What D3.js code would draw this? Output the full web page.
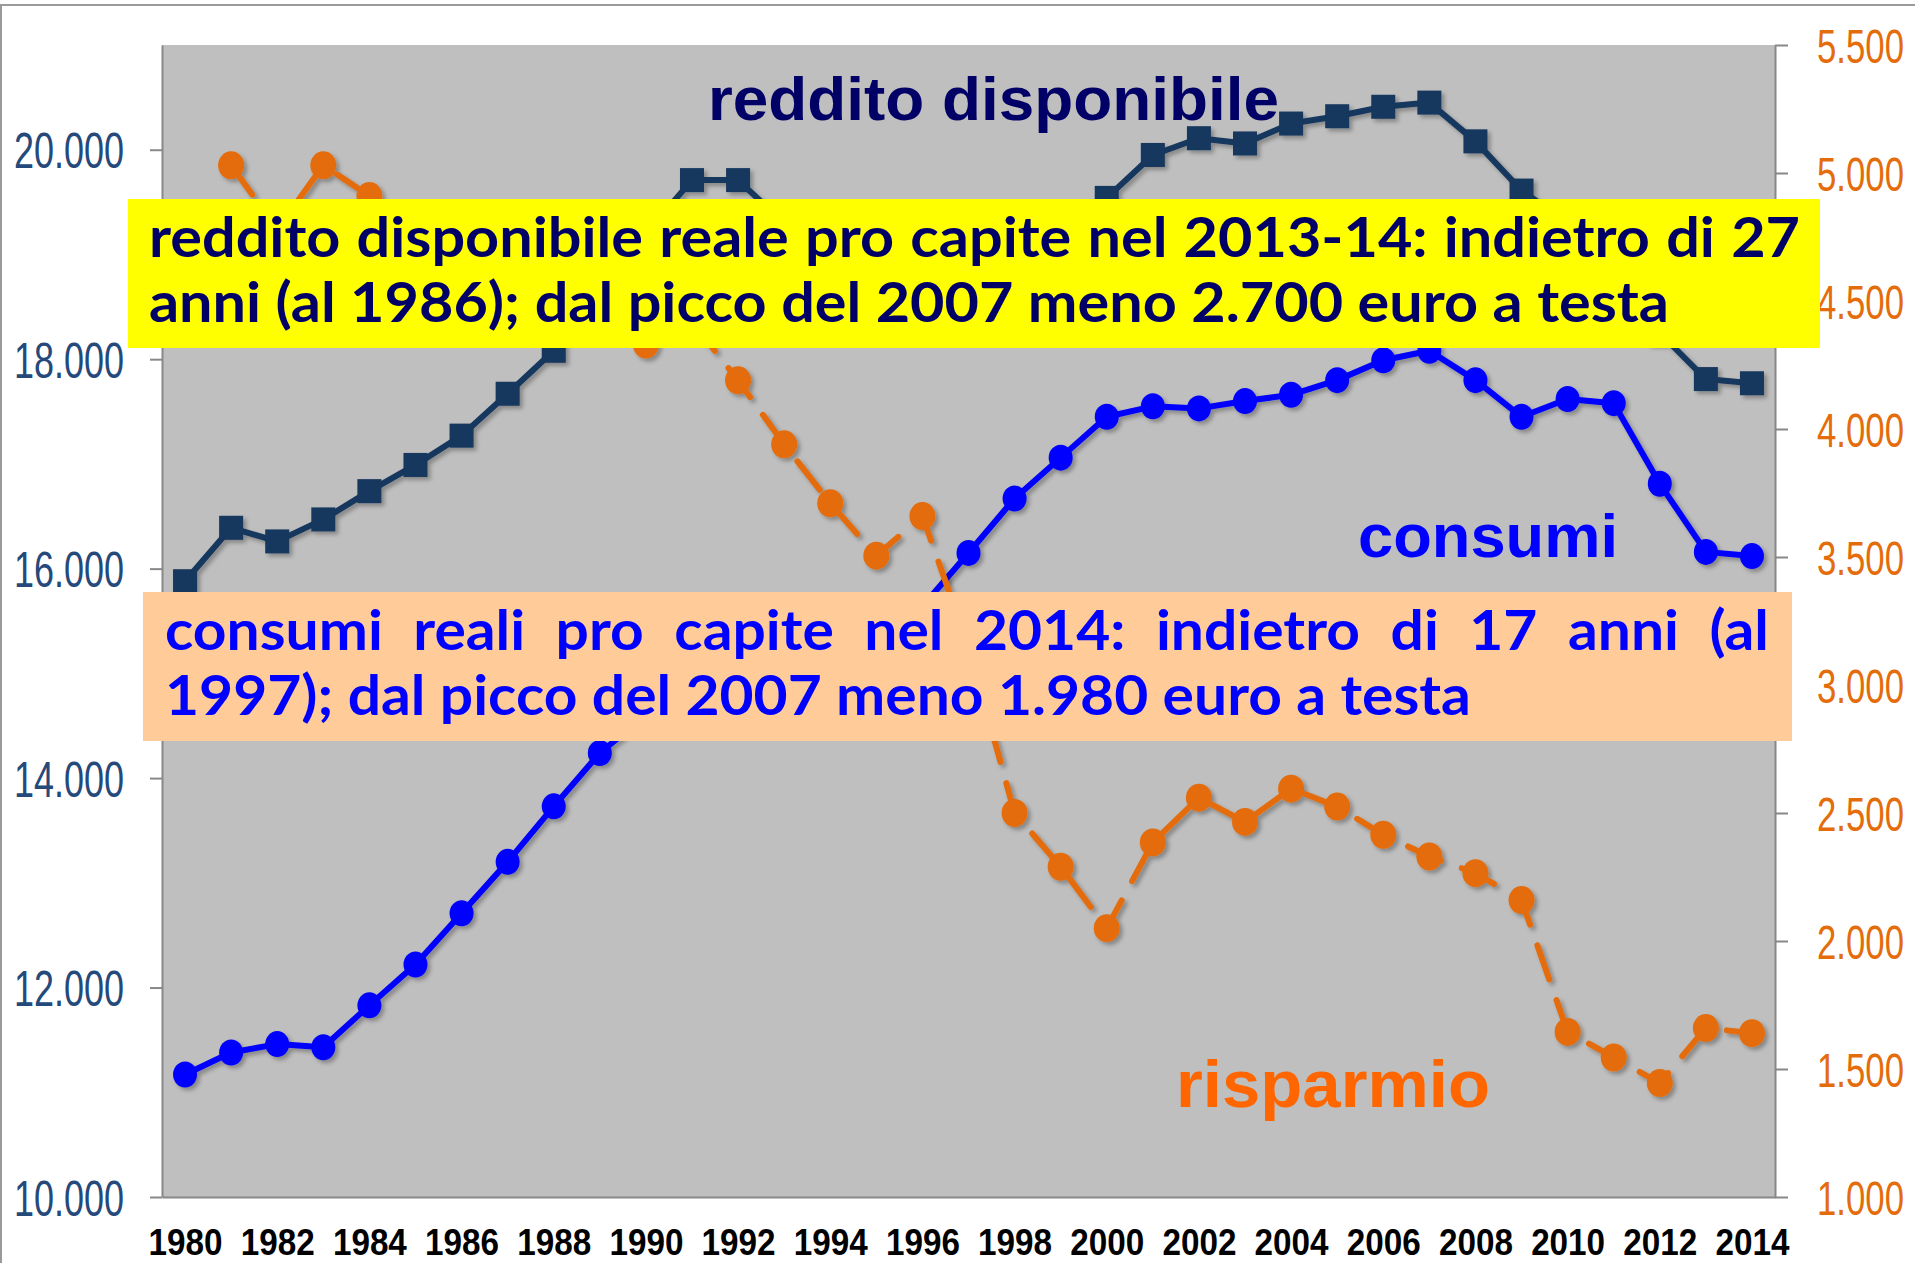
<!DOCTYPE html>
<html><head><meta charset="utf-8">
<script src="https://cdn.jsdelivr.net/npm/d3@7/dist/d3.min.js"></script>
<style>html,body{margin:0;padding:0;background:#fff;}svg{display:block;}</style>
</head><body>
<svg id="chart" width="1915" height="1263"></svg>
<script>
// ---------- DATA ----------
const years = [1980,1981,1982,1983,1984,1985,1986,1987,1988,1989,1990,1991,1992,1993,1994,1995,1996,1997,1998,1999,2000,2001,2002,2003,2004,2005,2006,2007,2008,2009,2010,2011,2012,2013,2014];
const reddito = [15880,16390,16260,16470,16740,16990,17270,17670,18080,18700,19200,19710,19710,19300,19000,18950,19000,19100,19150,19300,19540,19950,20110,20060,20250,20320,20410,20450,20080,19610,19300,19050,18250,17810,17770];
const consumi = [11170,11380,11460,11430,11830,12220,12710,13200,13730,14240,14600,14850,15000,14820,14950,15150,15640,16150,16670,17060,17450,17550,17530,17600,17660,17800,17990,18080,17800,17450,17620,17580,16810,16160,16120];
const risparmio = [null,5030,4780,5030,4910,4800,4700,4600,4500,4420,4330,4420,4190,3940,3710,3505,3660,3150,2500,2290,2050,2385,2560,2465,2595,2525,2415,2330,2265,2160,1645,1545,1445,1660,1640];
const leftTicks = [10000,12000,14000,16000,18000,20000];
const rightTicks = [1000,1500,2000,2500,3000,3500,4000,4500,5000,5500];
const xTickYears = [1980,1982,1984,1986,1988,1990,1992,1994,1996,1998,2000,2002,2004,2006,2008,2010,2012,2014];
const seriesLabels = {reddito:"reddito disponibile", consumi:"consumi", risparmio:"risparmio"};
const note1 = ["reddito disponibile reale pro capite nel 2013-14: indietro di 27", "anni (al 1986); dal picco del 2007 meno 2.700 euro a testa"];
const note2 = ["consumi reali pro capite nel 2014: indietro di 17 anni (al", "1997); dal picco del 2007 meno 1.980 euro a testa"];

// ---------- LAYOUT ----------
const W = 1915, H = 1263;
const P = {left:162, right:1775, top:45, bottom:1197};
const svg = d3.select("#chart");
const it = d3.formatLocale({decimal:",", thousands:".", grouping:[3], currency:["","€"]});
const fmt = it.format(",.0f");

const x = d3.scalePoint().domain(years).range([P.left, P.right]).padding(0.5);
const yL = d3.scaleLinear().domain([10000, 21000]).range([P.bottom, P.top]);
const yR = d3.scaleLinear().domain([1000, 5500]).range([P.bottom, P.top]);

const defs = svg.append("defs");
const f = defs.append("filter").attr("id","sh").attr("x","-20%").attr("y","-20%").attr("width","140%").attr("height","140%");
f.append("feDropShadow").attr("dx",3).attr("dy",3).attr("stdDeviation",2).attr("flood-color","#000").attr("flood-opacity",0.3);

// frame
svg.append("line").attr("x1",0).attr("x2",W).attr("y1",5).attr("y2",5).attr("stroke","#9a9a9a").attr("stroke-width",2);
svg.append("line").attr("x1",1).attr("x2",1).attr("y1",5).attr("y2",H).attr("stroke","#9a9a9a").attr("stroke-width",2);

// plot bg
svg.append("rect").attr("x",P.left).attr("y",P.top).attr("width",P.right-P.left).attr("height",P.bottom-P.top).attr("fill","#BFBFBF");

// axes
const axCol = "#888888";
const gL = svg.append("g").attr("transform",`translate(${P.left},0)`)
  .call(d3.axisLeft(yL).tickValues(leftTicks).tickFormat(fmt).tickSize(12).tickSizeOuter(0));
const gR = svg.append("g").attr("transform",`translate(${P.right},0)`)
  .call(d3.axisRight(yR).tickValues(rightTicks).tickFormat(fmt).tickSize(13).tickSizeOuter(0));
const gB = svg.append("g").attr("transform",`translate(0,${P.bottom})`)
  .call(d3.axisBottom(x).tickValues(xTickYears).tickFormat(d=>String(d)).tickSize(0).tickSizeOuter(0));
[gL,gR,gB].forEach(g=>{
  g.select(".domain").attr("stroke",axCol).attr("stroke-width",2);
  g.selectAll(".tick line").attr("stroke",axCol).attr("stroke-width",2);
});
// condensed labels via horizontal scaling
function squeeze(sel, target, tx, ty) {
  sel.each(function(){
    const t = d3.select(this).attr("x",0).attr("y",0);
    const w = this.getComputedTextLength();
    t.attr("transform",`translate(${tx},${ty}) scale(${target/w},1)`);
  });
}
const lt = gL.selectAll(".tick text").attr("font-family","'Liberation Sans', Arial, sans-serif").attr("font-size",50)
  .attr("fill","#24497A").attr("dy","0.36em").attr("text-anchor","end");
squeeze(lt, 110, -38, 0);
const rt = gR.selectAll(".tick text").attr("font-family","'Liberation Sans', Arial, sans-serif").attr("font-size",49)
  .attr("fill","#E46C0A").attr("dy","0.36em").attr("text-anchor","start");
squeeze(rt, 87, 42, 0);
const bt = gB.selectAll(".tick text").attr("font-family","'Liberation Sans', Arial, sans-serif").attr("font-weight","bold")
  .attr("font-size",36).attr("fill","#000").attr("dy",0).attr("text-anchor","middle");
squeeze(bt, 74, 0, 58);

// series
const idx = years.map((d,i)=>i);
const gRed = svg.append("g").attr("filter","url(#sh)");
gRed.append("path").datum(idx)
  .attr("d", d3.line().x(i=>x(years[i])).y(i=>yL(reddito[i])))
  .attr("fill","none").attr("stroke","#17375E").attr("stroke-width",6).attr("stroke-linejoin","round");
const sq = 24;
gRed.selectAll("rect.m").data(idx).join("rect").attr("class","m")
  .attr("x",i=>x(years[i])-sq/2).attr("y",i=>yL(reddito[i])-sq/2).attr("width",sq).attr("height",sq).attr("fill","#17375E");

const gCon = svg.append("g").attr("filter","url(#sh)");
gCon.append("path").datum(idx)
  .attr("d", d3.line().x(i=>x(years[i])).y(i=>yL(consumi[i])))
  .attr("fill","none").attr("stroke","#0000FF").attr("stroke-width",6).attr("stroke-linejoin","round");
gCon.selectAll("ellipse").data(idx).join("ellipse")
  .attr("cx",i=>x(years[i])).attr("cy",i=>yL(consumi[i])).attr("rx",12).attr("ry",13).attr("fill","#0000FF");

const gRis = svg.append("g").attr("filter","url(#sh)");
const rIdx = idx.filter(i=>risparmio[i]!==null);
gRis.append("path").datum(rIdx)
  .attr("d", d3.line().x(i=>x(years[i])).y(i=>yR(risparmio[i])))
  .attr("fill","none").attr("stroke","#E46C0A").attr("stroke-width",6).attr("stroke-linecap","round")
  .attr("stroke-dasharray","36,22");
gRis.selectAll("ellipse").data(rIdx).join("ellipse")
  .attr("cx",i=>x(years[i])).attr("cy",i=>yR(risparmio[i])).attr("rx",13).attr("ry",14).attr("fill","#E46C0A");

// series labels
const lab = (t, xx, yy, size, col, len) => svg.append("text").attr("x",xx).attr("y",yy).text(t)
  .attr("font-family","'Liberation Sans', Arial, sans-serif").attr("font-weight","bold").attr("font-size",size)
  .attr("fill",col).attr("textLength",len).attr("lengthAdjust","spacingAndGlyphs");
lab(seriesLabels.reddito, 708, 120, 62, "#000066", 571);
lab(seriesLabels.consumi, 1358, 557, 62, "#0000FF", 260);
lab(seriesLabels.risparmio, 1176, 1107, 67, "#FF6600", 314);

// annotation boxes
function noteBox(lines, box, x0, baselines, ends, color, bg, fs) {
  const g = svg.append("g");
  g.append("rect").attr("x",box[0]).attr("y",box[1]).attr("width",box[2]).attr("height",box[3]).attr("fill",bg);
  const font = "Lato, 'Open Sans', sans-serif";
  const tmp = g.append("text").attr("font-family",font).attr("font-weight","bold").attr("font-size",fs).style("white-space","pre");
  const meas = s => { tmp.text(s); return tmp.node().getComputedTextLength(); };
  const spaceW = meas("x x") - meas("xx");
  const words = lines.map(l => l.split(" "));
  const widths = words.map(ws => ws.map(meas));
  tmp.remove();
  const nat2 = d3.sum(widths[1]) + (words[1].length-1)*spaceW;
  const sx = (ends[1]-x0)/nat2;
  const inner = g.append("g").attr("transform",`translate(${x0},0) scale(${sx},1)`);
  lines.forEach((l,li)=>{
    let gap = spaceW;
    if (li===0) gap = ((ends[0]-x0)/sx - d3.sum(widths[0]))/(words[0].length-1);
    let cx = 0;
    words[li].forEach((w,wi)=>{
      inner.append("text").attr("x",cx).attr("y",baselines[li]).text(w)
        .attr("font-family",font).attr("font-weight","bold").attr("font-size",fs).attr("fill",color);
      cx += widths[li][wi] + gap;
    });
  });
}
noteBox(note1, [128,199,1692,149], 149, [257,322], [1800,1669], "#000066", "#FFFF00", 55);
noteBox(note2, [143,592,1649,149], 165, [650,715], [1769,1471], "#0000FF", "#FFCC99", 55);
</script>
</body></html>
